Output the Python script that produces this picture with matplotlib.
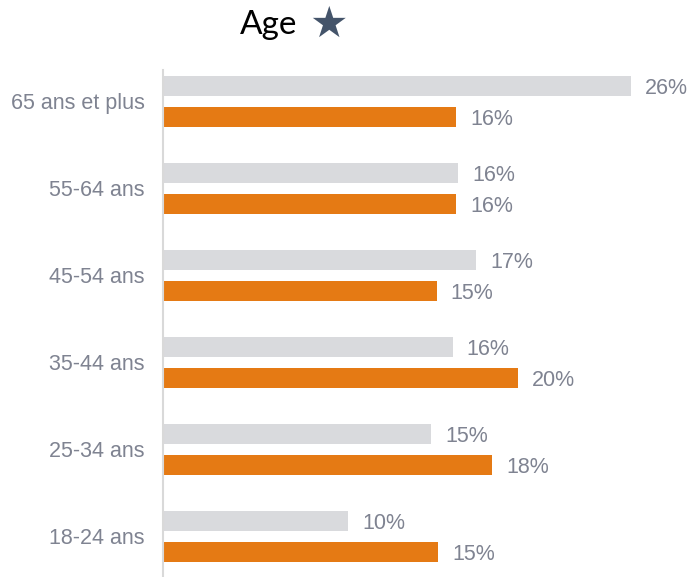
import numpy as np
import matplotlib
matplotlib.use('Agg')
import matplotlib.pyplot as plt

# data (bottom to top)
categories = ['18-24 ans', '25-34 ans', '35-44 ans', '45-54 ans', '55-64 ans', '65 ans et plus']
grey_vals = [10.3, 14.9, 16.1, 17.4, 16.4, 26.0]
orange_vals = [15.3, 18.3, 19.7, 15.2, 16.3, 16.3]
grey_labels = ['10%', '15%', '16%', '17%', '16%', '26%']
orange_labels = ['15%', '18%', '20%', '15%', '16%', '16%']

grey_col = '#d9dadd'
orange_col = '#e57a14'
text_col = '#7f8391'
fontsize = 15.5

fig = plt.figure(figsize=(6.91, 5.77), dpi=100)
fig.patch.set_facecolor('white')
ax = fig.add_axes([163/691, 0, 528/691, 1 - 70/577])

y = np.arange(len(categories))
h = 20/87
off = 15.5/87
ax.barh(y + off, grey_vals, height=h, color=grey_col)
ax.barh(y - off, orange_vals, height=h, color=orange_col)

pad = 14/18
for yi, v, s in zip(y, grey_vals, grey_labels):
    ax.text(v + pad, yi + off, s, va='center_baseline', ha='left', fontsize=fontsize,
            color=text_col, family='Liberation Sans')
for yi, v, s in zip(y, orange_vals, orange_labels):
    ax.text(v + pad, yi - off, s, va='center_baseline', ha='left', fontsize=fontsize,
            color=text_col, family='Liberation Sans')

ax.set_xlim(0, 528/18)
ax.set_ylim(-41/87, 5 + 31.5/87)
ax.set_yticks(y)
ax.set_yticklabels(categories, fontsize=fontsize, color=text_col, family='Liberation Sans')
ax.tick_params(axis='y', length=0, pad=13)
ax.set_xticks([])
for side in ['top', 'right', 'bottom']:
    ax.spines[side].set_visible(False)
ax.spines['left'].set_color('#d9d9d9')
ax.spines['left'].set_linewidth(1.5)

fig.text(269/691, 1 - 25/577, 'Age', ha='center', va='center', fontsize=24,
         color='black', family='Lato')
fig.text(328/691, 1 - 25/577, '\u2605', ha='center', va='center', fontsize=31,
         color='#44546a', family='DejaVu Sans')

fig.savefig('out.png', dpi=100)
